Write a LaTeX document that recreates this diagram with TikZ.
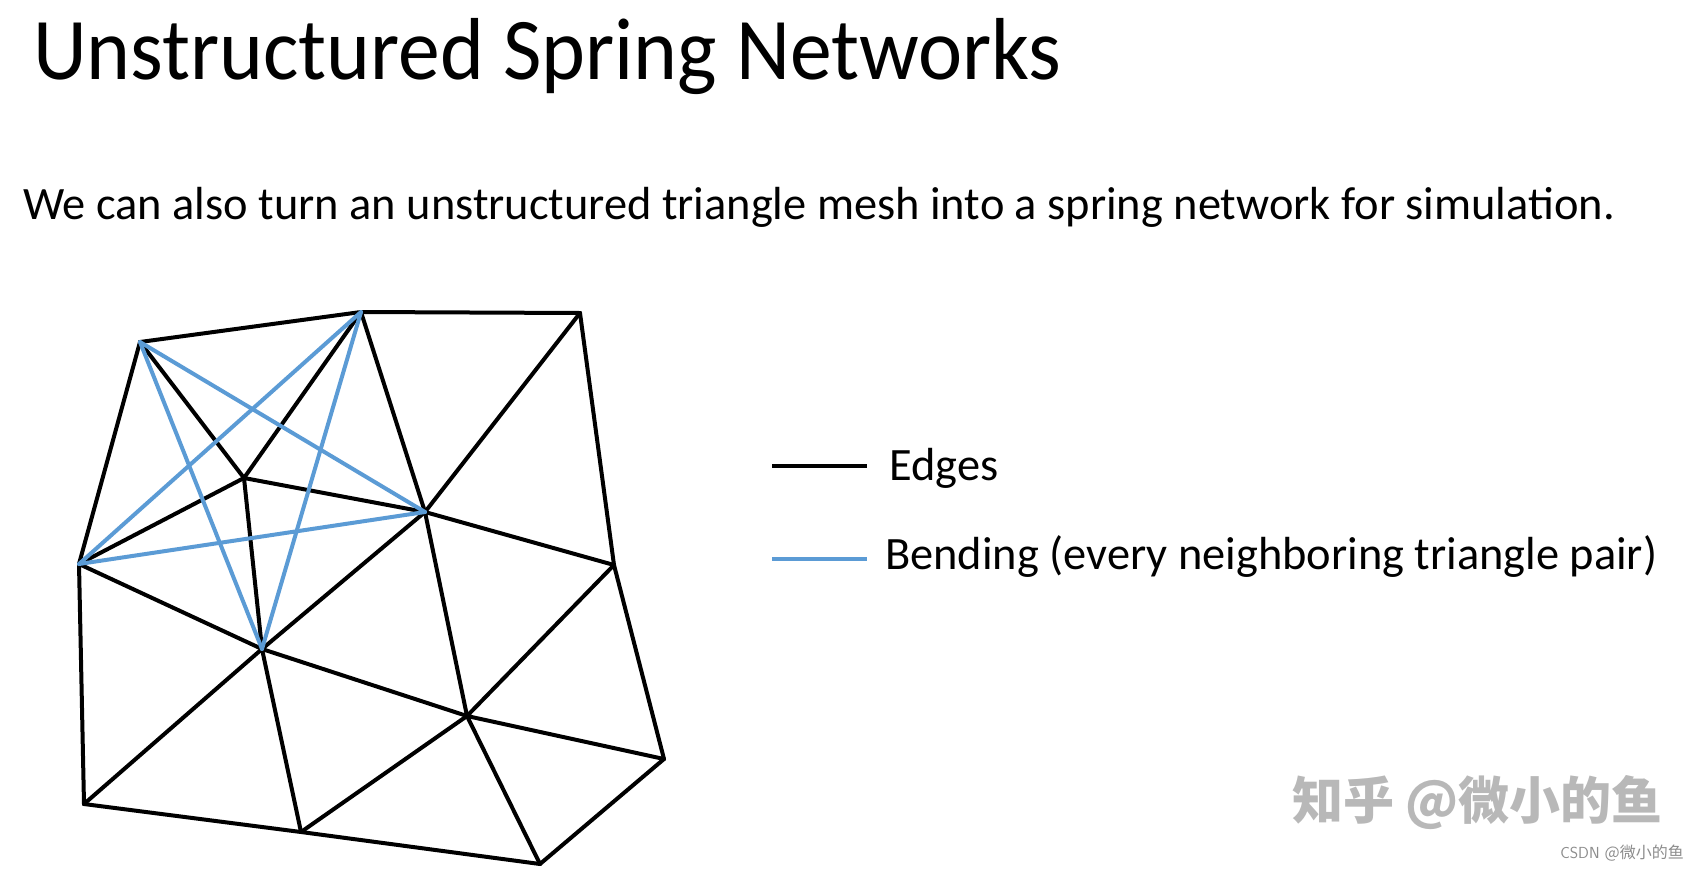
\documentclass[tikz,border=0pt]{standalone}
\usepackage{fontspec}
\setmainfont{Carlito}
\newfontfamily\titlefont[FakeStretch=0.95]{Carlito}
\newfontfamily\cjk{Noto Sans CJK SC}
\usepackage{xcolor}
\usepackage{tikz}
\usetikzlibrary{positioning}

\definecolor{bendblue}{RGB}{91,155,213}
\definecolor{markgray}{RGB}{184,184,184}

\begin{document}
\begin{tikzpicture}[
          x=1pt, y=-1pt,
          edge/.style={draw=black, line width=4pt, line cap=round, line join=round},
          bendline/.style={draw=bendblue, line width=4pt, line cap=round},
          legendtext/.style={inner sep=0pt, font=\fontsize{46.4}{50}\selectfont}
        ]
          \useasboundingbox (0,0) rectangle (1700,870);
          % titles
          \node[anchor=base west, inner sep=0pt, font=\titlefont\fontsize{88}{96}\selectfont] (title) at (33,79) {Unstructured Spring Networks};
          \node[anchor=base west, inner sep=0pt, font=\fontsize{46.4}{52}\selectfont] (intro) at (23,219) {We can also turn an unstructured triangle mesh into a spring network for simulation.};
          % mesh vertices
          \coordinate (a) at (140,342);
          \coordinate (b) at (361,312);
          \coordinate (c) at (580,313);
          \coordinate (d) at (244,478);
          \coordinate (e) at (425,512);
          \coordinate (f) at (79,564);
          \coordinate (g) at (614,565);
          \coordinate (h) at (262,649);
          \coordinate (i) at (467,716);
          \coordinate (j) at (664,759);
          \coordinate (k) at (84,804);
          \coordinate (l) at (301,832);
          \coordinate (m) at (540,864);
          % edges
          \foreach \p/\q in {a/b, b/c, a/d, b/d, b/e, c/e, c/g, a/f, f/d, d/e, d/h, f/h, e/h, e/g, e/i,
                             f/k, h/k, h/l, h/i, g/i, g/j, i/j, i/l, i/m, k/l, l/m, m/j}
            \draw[edge] (\p) -- (\q);
          % bending springs
          \foreach \p/\q in {a/e, a/h, b/f, b/h, f/e}
            \draw[bendline] (\p) -- (\q);
          % legend
          \coordinate (edgeL) at (772,466);
          \coordinate (edgeR) at (867,466);
          \draw[edge, line cap=butt] (edgeL) -- (edgeR);
          \node[legendtext, anchor=base west] (edgelabel) at (889,480) {Edges};
          \coordinate (bendL) at (772,559);
          \coordinate (bendR) at (867,559);
          \draw[bendline, line cap=butt] (bendL) -- (bendR);
          \node[legendtext, anchor=base west] (bendlabel) at (885,569) {Bending (every neighboring triangle pair)};
          % watermarks
          \node[anchor=base west, inner sep=0pt, text=markgray, font=\cjk\bfseries\fontsize{51}{55}\selectfont] (zhihu) at (1292,819) {知乎 @微小的鱼};
          \node[anchor=base east, inner sep=0pt, text=black!45, font=\fontsize{16}{18}\selectfont\sffamily] (csdn) at (1684,858) {CSDN {\cjk @微小的鱼}};
        \end{tikzpicture}
\end{document}
